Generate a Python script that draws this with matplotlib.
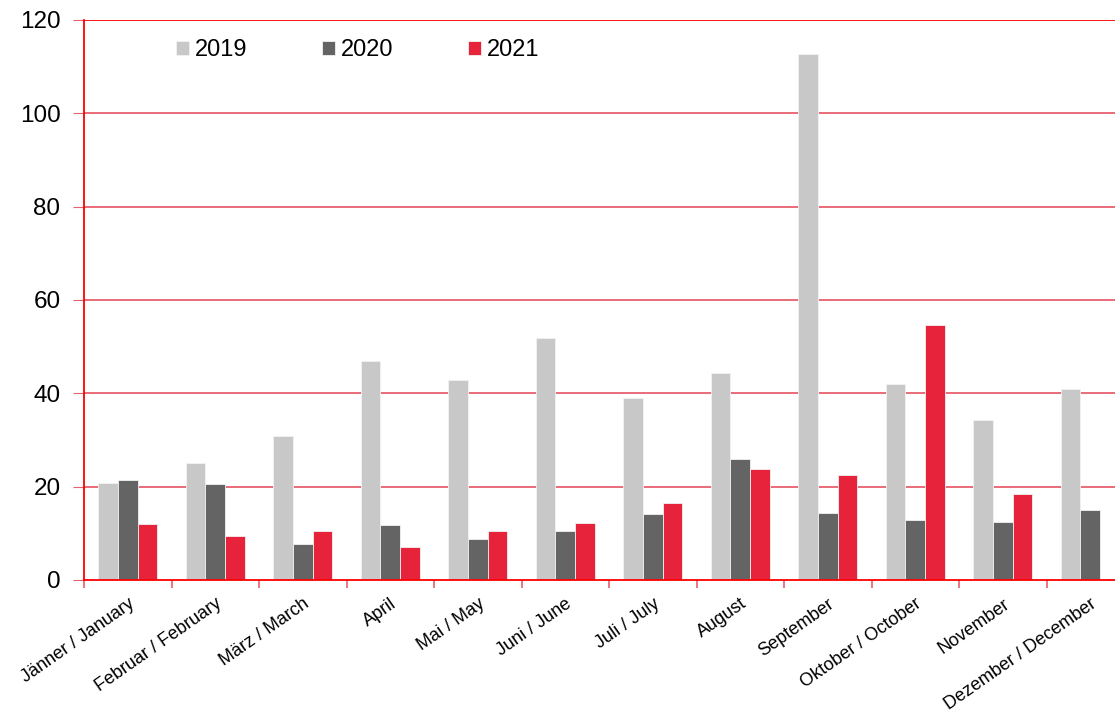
import matplotlib
matplotlib.use("Agg")
import matplotlib.pyplot as plt
import numpy as np

plt.rcParams['font.family'] = ['Liberation Sans', 'DejaVu Sans']

# --- Daten ---
monate = ['Jänner / January', 'Februar / February', 'März / March', 'April',
          'Mai / May', 'Juni / June', 'Juli / July', 'August', 'September',
          'Oktober / October', 'November', 'Dezember / December']
werte_2019 = [20.7, 25.1, 30.9, 47.0, 42.9, 51.8, 39.0, 44.3, 112.7, 42.1, 34.3, 41.0]
werte_2020 = [21.4, 20.6, 7.7, 11.7, 8.7, 10.6, 14.1, 25.9, 14.3, 12.8, 12.5, 14.9]
werte_2021 = [12.0, 9.5, 10.4, 7.1, 10.6, 12.3, 16.4, 23.7, 22.4, 54.6, 18.4, np.nan]
jahre = ['2019', '2020', '2021']
y_ticks = [0, 20, 40, 60, 80, 100, 120]

COR_2019 = '#C8C8C8'
COR_2020 = '#646464'
COR_2021 = '#E6233A'
COR_GRADE = '#E8606E'
COR_EIXO = '#FF0000'

W, H = 1115, 712
fig = plt.figure(figsize=(W / 100, H / 100), dpi=100)
# Achse läuft rechts über den Bildrand hinaus (wie im Original beschnitten)
ax = fig.add_axes([84 / W, (H - 580) / H, 1050 / W, 560 / H])

x = np.arange(len(monate))
largura = 0.223
series = [(werte_2019, COR_2019), (werte_2020, COR_2020), (werte_2021, COR_2021)]
for i, (vals, cor) in enumerate(series):
    ax.bar(x + (i - 1) * largura, vals, width=largura, color=cor,
           edgecolor='#F2F2F2', linewidth=0.6, label=jahre[i], zorder=3)

ax.set_xlim(-0.5, len(monate) - 0.5)
ax.set_ylim(0, 120)
ax.set_yticks(y_ticks)
ax.tick_params(axis='y', labelsize=17.5, length=8, color=COR_GRADE, pad=9)

# Gitterlinien
for v in y_ticks[1:-1]:
    ax.axhline(v, color=COR_GRADE, linewidth=1.3, zorder=1)
ax.axhline(120, color=COR_EIXO, linewidth=1.3, zorder=1)

# x-Achse: Striche zwischen den Kategorien, Beschriftungen in der Mitte
ax.set_xticks(np.arange(len(monate) + 1) - 0.5)
ax.set_xticklabels([])
ax.set_xticks(x, minor=True)
ax.set_xticklabels(monate, minor=True, rotation=35, ha='right', va='top',
                   rotation_mode='anchor', fontsize=13)
ax.tick_params(axis='x', which='major', length=6, color=COR_GRADE, width=1.2)
ax.tick_params(axis='x', which='minor', length=0, pad=11)

for s in ['top', 'right']:
    ax.spines[s].set_visible(False)
ax.spines['left'].set_color(COR_EIXO)
ax.spines['bottom'].set_color(COR_EIXO)
ax.spines['left'].set_linewidth(1.3)
ax.spines['bottom'].set_linewidth(1.3)
ax.spines['left'].set_zorder(4)
ax.spines['bottom'].set_zorder(4)

leg = fig.legend(loc='center left', bbox_to_anchor=(176 / W, 1 - 50 / H), ncol=3,
                 frameon=False, fontsize=17, handlelength=0.55, handleheight=0.55,
                 handletextpad=0.25, columnspacing=3.15, borderpad=0, borderaxespad=0)

plt.savefig('out.png', dpi=100)
